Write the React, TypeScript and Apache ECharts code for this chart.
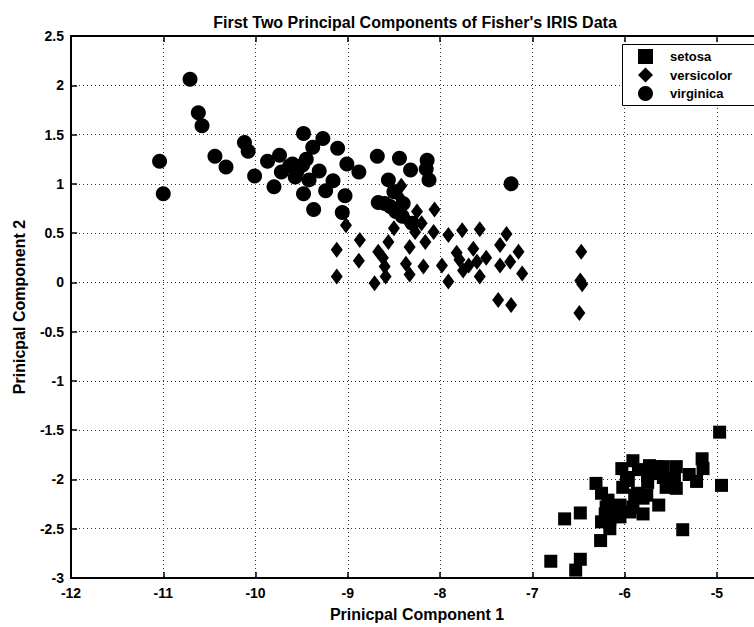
import React, { useEffect, useRef } from "react";
import * as echarts from "echarts";

const TITLE = "First Two Principal Components of Fisher's IRIS Data";
const X_NAME = "Prinicpal Component 1";
const Y_NAME = "Prinicpal Component 2";
const SPECIES = ["setosa", "versicolor", "virginica"];

const setosa: number[][] = [
  [-4.97, -1.52], [-4.95, -2.06], [-5.16, -1.79], [-5.15, -1.89], [-5.22, -2.02],
  [-5.37, -2.51], [-5.44, -1.87], [-5.44, -2.09], [-5.51, -2.01], [-5.58, -1.87],
  [-5.65, -1.87], [-5.73, -1.86], [-5.75, -2.03], [-5.63, -2.26], [-5.8, -2.35],
  [-5.76, -2.16], [-5.89, -2.16], [-5.91, -1.81], [-6.03, -1.89], [-5.96, -2.01],
  [-5.91, -2.28], [-5.94, -2.33], [-6.05, -2.26], [-6.11, -2.33], [-6.16, -2.4],
  [-6.25, -2.43], [-6.18, -2.21], [-6.25, -2.14], [-6.31, -2.04], [-6.16, -2.5],
  [-6.26, -2.62], [-6.48, -2.34], [-6.65, -2.4], [-6.48, -2.81], [-6.53, -2.92],
  [-6.8, -2.83], [-5.75, -1.96], [-5.55, -2.08], [-5.86, -2.14], [-6.2, -2.28],
  [-6.05, -2.38], [-5.98, -1.98], [-5.69, -1.94], [-5.46, -1.98], [-5.8, -2.19],
  [-6.21, -2.35], [-6.02, -2.08], [-5.58, -1.98], [-5.3, -1.95], [-5.85, -1.9],
];

const versicolor: number[][] = [
  [-8.42, 0.98], [-8.06, 0.74], [-9.02, 0.58], [-9.12, 0.33], [-9.12, 0.06],
  [-8.87, 0.43], [-8.88, 0.22], [-8.71, -0.01], [-8.67, 0.31], [-8.56, 0.41],
  [-8.6, 0.16], [-8.59, 0.06], [-8.37, 0.19], [-8.33, 0.08], [-8.33, 0.36],
  [-8.27, 0.51], [-8.18, 0.16], [-8.16, 0.41], [-8.07, 0.51], [-7.98, 0.17],
  [-7.91, 0.01], [-7.91, 0.48], [-7.76, 0.53], [-7.57, 0.54], [-7.79, 0.23],
  [-7.75, 0.12], [-7.64, 0.34], [-7.6, 0.21], [-7.57, 0.06], [-7.69, 0.17],
  [-7.35, 0.38], [-7.28, 0.49], [-7.35, 0.17], [-7.15, 0.31], [-7.11, 0.09],
  [-7.24, 0.21], [-7.37, -0.18], [-7.23, -0.23], [-6.47, 0.31], [-6.48, 0.02],
  [-6.46, -0.02], [-6.49, -0.31], [-8.45, 0.88], [-8.35, 0.62], [-8.25, 0.72],
  [-8.5, 0.55], [-8.2, 0.6], [-7.5, 0.25], [-7.82, 0.3], [-8.62, 0.25],
];

const virginica: number[][] = [
  [-10.71, 2.06], [-10.62, 1.72], [-10.58, 1.59], [-11.04, 1.23], [-11.0, 0.9],
  [-10.44, 1.28], [-10.32, 1.17], [-10.12, 1.42], [-10.08, 1.33], [-10.01, 1.08],
  [-9.87, 1.23], [-9.74, 1.29], [-9.8, 0.97], [-9.72, 1.12], [-9.63, 1.18],
  [-9.57, 1.07], [-9.49, 1.19], [-9.48, 1.51], [-9.38, 1.37], [-9.27, 1.46],
  [-9.42, 1.04], [-9.31, 1.13], [-9.48, 0.9], [-9.37, 0.74], [-9.24, 0.93],
  [-9.11, 1.36], [-9.01, 1.2], [-8.88, 1.12], [-9.16, 1.03], [-9.03, 0.88],
  [-9.06, 0.71], [-8.68, 1.28], [-8.44, 1.26], [-8.32, 1.14], [-8.14, 1.24],
  [-8.15, 1.15], [-8.12, 1.04], [-8.56, 1.04], [-8.67, 0.81], [-8.54, 0.77],
  [-8.41, 0.67], [-7.23, 1.0], [-9.6, 1.2], [-8.5, 0.92], [-8.6, 0.8],
  [-8.4, 0.8], [-8.3, 0.6], [-9.55, 1.13], [-8.48, 0.72], [-9.45, 1.25],
];

const FONT = "Liberation Sans, Arial, Helvetica, sans-serif";

export default function App() {
  const ref = useRef<HTMLDivElement>(null);
  useEffect(() => {
    if (!ref.current) return;
    const chart = echarts.init(ref.current, undefined, { renderer: "svg" });
    const axisLine = { show: true, onZero: false, lineStyle: { color: "#000", width: 2 } };
    const axisTick = { show: true, inside: true, length: 6, lineStyle: { color: "#000", width: 1.5 } };
    const splitLine = { show: true, lineStyle: { color: "#333", width: 1, type: [1, 3] } };
    const label = { color: "#000", fontWeight: "bold", fontSize: 14, fontFamily: FONT };
    const nameStyle = { color: "#000", fontWeight: "bold", fontSize: 16, fontFamily: FONT };
    const mark = { color: "#000", opacity: 1 };
    chart.setOption({
      animation: false,
      backgroundColor: "#fff",
      graphic: [
        {
          type: "text",
          x: 415,
          y: 22,
          style: {
            text: TITLE,
            fill: "#000",
            font: `bold 16px ${FONT}`,
            textAlign: "center",
            textVerticalAlign: "middle",
          },
        },
        {
          type: "rect",
          z: 50,
          shape: { x: 622.5, y: 44.5, width: 200, height: 61 },
          style: { fill: "#fff", stroke: "#000", lineWidth: 1 },
        },
      ],
      grid: { left: 71, top: 36, width: 692, height: 546, containLabel: false },
      legend: {
        data: [
          { name: SPECIES[0], icon: "rect" },
          { name: SPECIES[1], icon: "diamond" },
          { name: SPECIES[2], icon: "circle" },
        ],
        orient: "vertical",
        left: 622,
        top: 44,
        itemWidth: 15,
        itemHeight: 15,
        itemGap: 3.5,
        padding: [5, 10, 3, 16],
        borderWidth: 0,
        itemStyle: { opacity: 1, color: "#000" },
        textStyle: { color: "#000", fontWeight: "bold", fontSize: 13, fontFamily: FONT, padding: [0, 0, 0, 12] },
        z: 60,
      },
      xAxis: [
        {
          type: "value",
          position: "bottom",
          min: -12,
          max: -4.5,
          interval: 1,
          axisLine,
          axisTick,
          splitLine,
          axisLabel: {
            ...label,
            margin: 8,
            formatter: (v: number) => (Number.isInteger(v) ? String(v) : ""),
          },
          name: X_NAME,
          nameLocation: "middle",
          nameGap: 28,
          nameTextStyle: nameStyle,
        },
        {
          type: "value",
          position: "top",
          min: -12,
          max: -4.5,
          interval: 1,
          axisLine,
          axisTick,
          splitLine: { show: false },
          axisLabel: { show: false },
        },
      ],
      yAxis: {
        type: "value",
        min: -3,
        max: 2.5,
        interval: 0.5,
        axisLine,
        axisTick,
        splitLine,
        axisLabel: { ...label, margin: 7 },
        name: Y_NAME,
        nameLocation: "middle",
        nameGap: 44,
        nameTextStyle: nameStyle,
      },
      series: [
        {
          name: SPECIES[0],
          type: "scatter",
          symbol: "rect",
          symbolSize: 13,
          itemStyle: mark,
          data: setosa,
        },
        {
          name: SPECIES[1],
          type: "scatter",
          symbol: "diamond",
          symbolSize: [12, 16],
          itemStyle: mark,
          data: versicolor,
        },
        {
          name: SPECIES[2],
          type: "scatter",
          symbol: "circle",
          symbolSize: 15,
          itemStyle: mark,
          data: virginica,
        },
      ],
    });
    return () => chart.dispose();
  }, []);
  return (
    <div
      style={{
        position: "fixed",
        left: 0,
        top: 0,
        width: 754,
        height: 627,
        overflow: "hidden",
        background: "#fff",
      }}
    >
      <div ref={ref} style={{ width: 800, height: 627 }} />
    </div>
  );
}
